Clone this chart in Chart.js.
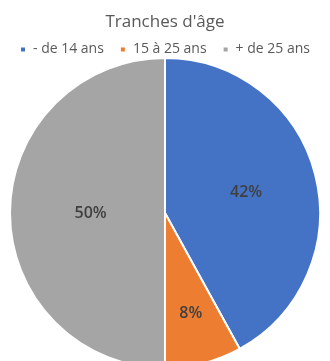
<!DOCTYPE html>
<html lang="fr">
<head>
<meta charset="utf-8">
<title>Tranches d'âge</title>
<script src="https://cdn.jsdelivr.net/npm/chart.js@4.4.1/dist/chart.umd.min.js"></script>
<style>
  html, body { margin: 0; padding: 0; background: #fff; overflow: hidden; }
  #wrap { width: 330px; height: 364px; }
</style>
</head>
<body>
<div id="wrap"><canvas id="chartAge"></canvas></div>
<script>
// Répartition par tranche d'âge (en %)
const categories = ['- de 14 ans', '15 à 25 ans', '+ de 25 ans'];
const pourcentages = [42, 8, 50];
const couleurs = ['#4472C4', '#ED7D31', '#A5A5A5'];

// position radiale des étiquettes (fraction du rayon)
const posEtiquettes = [0.54, 0.67, 0.48];

// étiquettes de valeur dessinées au milieu de chaque part
const etiquettesPlugin = {
  id: 'etiquettes',
  afterDatasetsDraw(chart) {
    const ctx = chart.ctx;
    const meta = chart.getDatasetMeta(0);
    ctx.save();
    ctx.font = '600 16px "Open Sans"';
    ctx.fillStyle = '#404040';
    ctx.textAlign = 'center';
    ctx.textBaseline = 'middle';
    meta.data.forEach((arc, i) => {
      const p = arc.getProps(['x', 'y', 'startAngle', 'endAngle', 'outerRadius'], true);
      const angle = (p.startAngle + p.endAngle) / 2;
      const r = p.outerRadius * posEtiquettes[i];
      ctx.fillText(pourcentages[i] + '%', p.x + Math.cos(angle) * r, p.y + Math.sin(angle) * r);
    });
    ctx.restore();
  }
};

const ctx = document.getElementById('chartAge').getContext('2d');

new Chart(ctx, {
  type: 'pie',
  data: {
    labels: categories,
    datasets: [{
      data: pourcentages,
      backgroundColor: couleurs,
      borderColor: '#ffffff',
      borderWidth: 2,
      radius: 155
    }]
  },
  options: {
    responsive: true,
    maintainAspectRatio: false,
    animation: false,
    layout: { padding: { bottom: 4.5 } },
    plugins: {
      title: {
        display: true,
        text: "Tranches d'âge",
        color: '#595959',
        // hauteur de ligne réduite pour rapprocher la légende du titre
        font: { family: '"Open Sans"', size: 17, weight: 'normal', lineHeight: 0.2 },
        padding: { top: 20.3, bottom: 2.8 }
      },
      legend: {
        position: 'top',
        labels: {
          color: '#595959',
          font: { family: '"Open Sans"', size: 14 },
          boxWidth: 6,
          boxHeight: 6,
          padding: 16
        }
      },
      tooltip: { enabled: false }
    }
  },
  plugins: [etiquettesPlugin]
});
</script>
</body>
</html>
